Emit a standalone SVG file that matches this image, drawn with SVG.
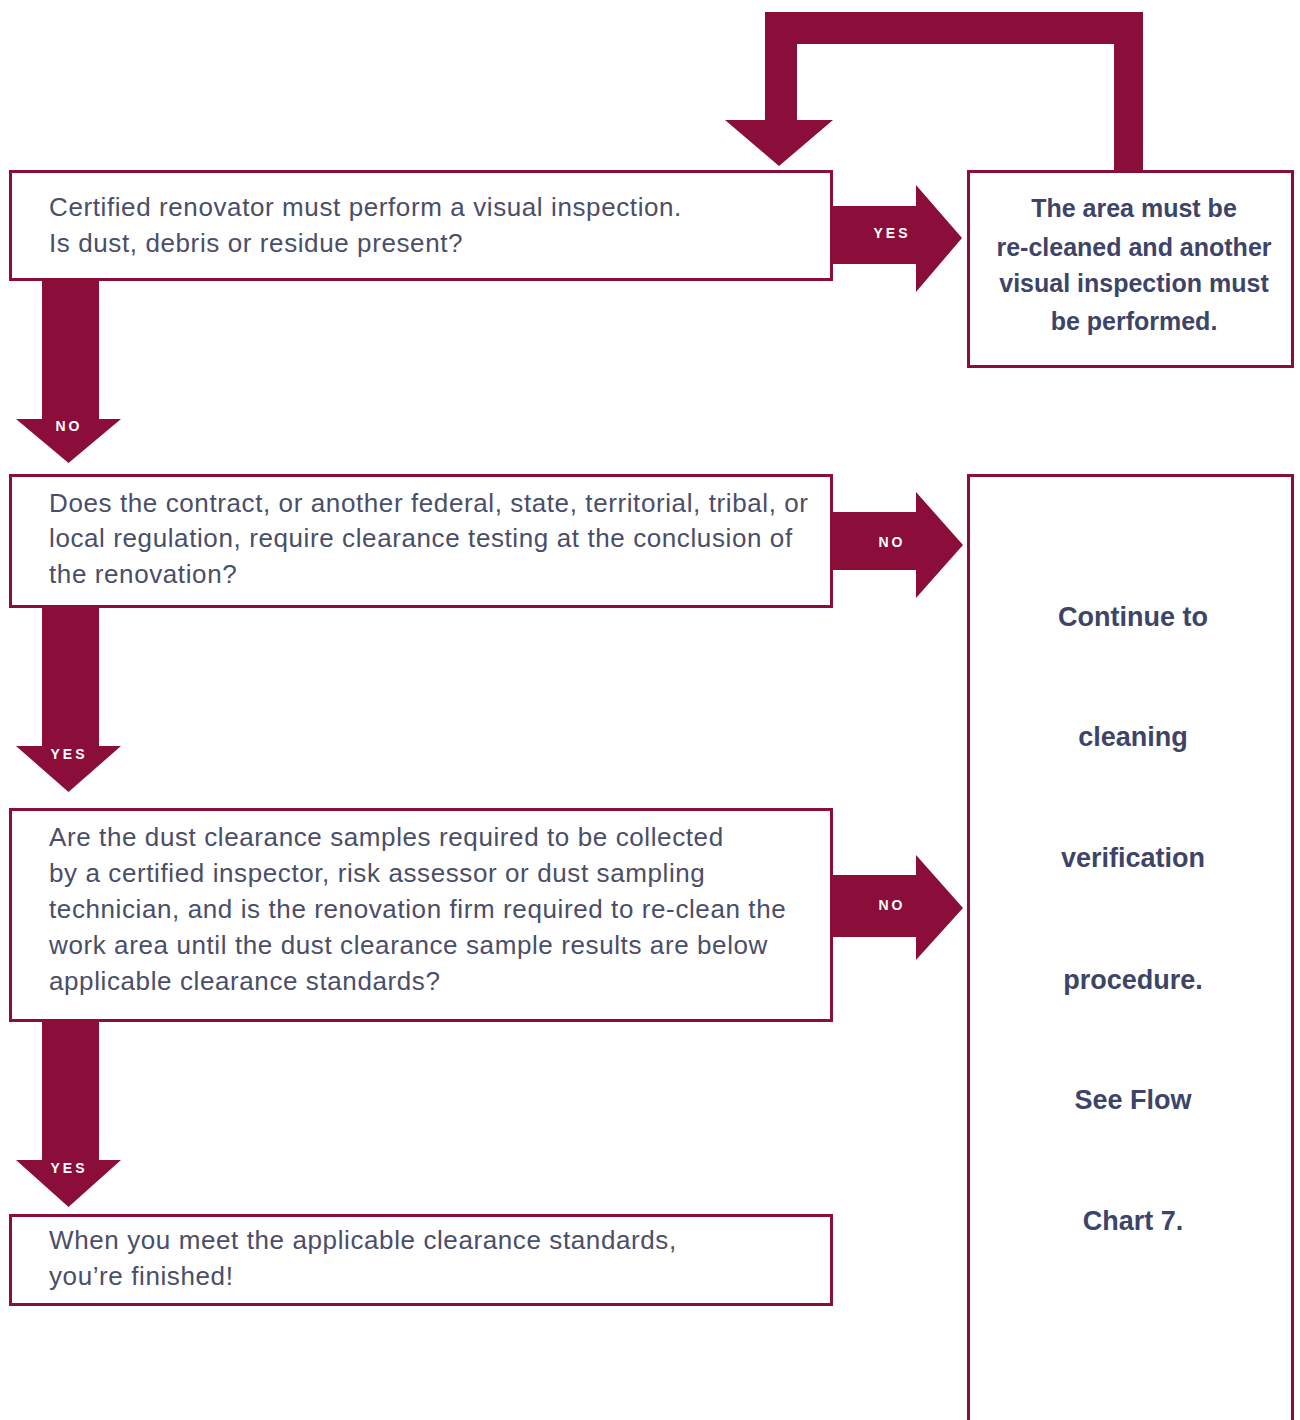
<svg xmlns="http://www.w3.org/2000/svg" width="1300" height="1420" viewBox="0 0 1300 1420">
<style>
.box{fill:#fff;stroke:#8b0d3a;stroke-width:3}
.arr{fill:#8b0d3a}
.t{font-family:"Liberation Sans",Arial,sans-serif;font-size:26px;fill:#4a4e68;letter-spacing:0.6px}
.b{font-family:"Liberation Sans",Arial,sans-serif;font-size:25px;font-weight:bold;fill:#3d4468;text-anchor:middle}
.bb{font-family:"Liberation Sans",Arial,sans-serif;font-size:27px;font-weight:bold;fill:#3d4468;text-anchor:middle}
.l{font-family:"Liberation Sans",Arial,sans-serif;font-size:14px;font-weight:bold;fill:#fff;text-anchor:middle;letter-spacing:3px}
</style>
<rect width="1300" height="1420" fill="#fff"/>
<g id="connectors">
<path class="arr" d="M1114,170 V44 H797 V120 H833 L779,166 L725,120 H765 V12 H1143 V170 Z"/>
<path class="arr" d="M832,206 H916 V185 L962,238 L916,292 V264 H832 Z"/>
<text class="l" x="892" y="238">YES</text>
<path class="arr" d="M832,512 H916 V492 L963,545 L916,598 V570 H832 Z"/>
<text class="l" x="892" y="547">NO</text>
<path class="arr" d="M832,875 H916 V855 L963,908 L916,960 V937 H832 Z"/>
<text class="l" x="892" y="910">NO</text>
<path class="arr" d="M42,280 H99 V419 H121 L68.5,463 L16,419 H42 Z"/>
<text class="l" x="69" y="431">NO</text>
<path class="arr" d="M42,607 H99 V746 H121 L68.5,792 L16,746 H42 Z"/>
<text class="l" x="69" y="759">YES</text>
<path class="arr" d="M42,1021 H99 V1160 H121 L68.5,1207 L16,1160 H42 Z"/>
<text class="l" x="69" y="1173">YES</text>
</g>
<g id="n1">
<rect class="box" x="10.5" y="171.5" width="821" height="108"/>
<text class="t" x="49" y="216">Certified renovator must perform a visual inspection.</text>
<text class="t" x="49" y="252">Is dust, debris or residue present?</text>
</g>
<g id="n2">
<rect class="box" x="968.5" y="171.5" width="324" height="195"/>
<text class="b" x="1134" y="217">The area must be</text>
<text class="b" x="1134" y="256">re-cleaned and another</text>
<text class="b" x="1134" y="292">visual inspection must</text>
<text class="b" x="1134" y="330">be performed.</text>
</g>
<g id="n3">
<rect class="box" x="10.5" y="475.5" width="821" height="131"/>
<text class="t" x="49" y="512">Does the contract, or another federal, state, territorial, tribal, or</text>
<text class="t" x="49" y="547">local regulation, require clearance testing at the conclusion of</text>
<text class="t" x="49" y="583">the renovation?</text>
</g>
<g id="n4">
<rect class="box" x="968.5" y="475.5" width="324" height="960"/>
<text class="bb" x="1133" y="626">Continue to</text>
<text class="bb" x="1133" y="746">cleaning</text>
<text class="bb" x="1133" y="867">verification</text>
<text class="bb" x="1133" y="989">procedure.</text>
<text class="bb" x="1133" y="1109">See Flow</text>
<text class="bb" x="1133" y="1230">Chart 7.</text>
</g>
<g id="n5">
<rect class="box" x="10.5" y="809.5" width="821" height="211"/>
<text class="t" x="49" y="846">Are the dust clearance samples required to be collected</text>
<text class="t" x="49" y="882">by a certified inspector, risk assessor or dust sampling</text>
<text class="t" x="49" y="918">technician, and is the renovation firm required to re-clean the</text>
<text class="t" x="49" y="954">work area until the dust clearance sample results are below</text>
<text class="t" x="49" y="990">applicable clearance standards?</text>
</g>
<g id="n6">
<rect class="box" x="10.5" y="1215.5" width="821" height="89"/>
<text class="t" x="49" y="1249">When you meet the applicable clearance standards,</text>
<text class="t" x="49" y="1285">you’re finished!</text>
</g>
</svg>
